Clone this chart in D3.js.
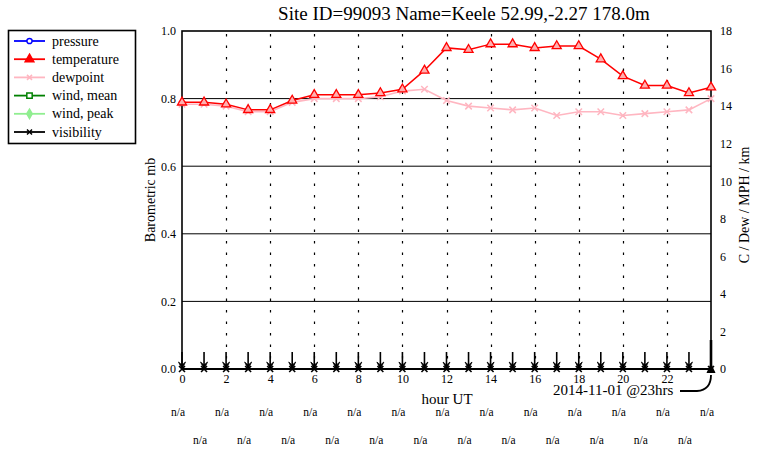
<!DOCTYPE html>
<html><head><meta charset="utf-8">
<script src="https://cdn.jsdelivr.net/npm/d3@7"></script>
<style>body{margin:0;background:#fff}svg{display:block}text{font-family:"Liberation Serif","Times New Roman",serif;fill:#000}</style>
</head><body>
<svg id="c" width="767" height="450"></svg>
<script>
const title = "Site ID=99093 Name=Keele 52.99,-2.27 178.0m";
const hours = [0,1,2,3,4,5,6,7,8,9,10,11,12,13,14,15,16,17,18,19,20,21,22,23,24];
const temperature = [14.2,14.2,14.1,13.8,13.8,14.3,14.6,14.6,14.6,14.7,14.9,15.9,17.1,17.0,17.3,17.3,17.1,17.2,17.2,16.5,15.6,15.1,15.1,14.7,15.0];
const dewpoint = [14.1,14.1,14.0,13.7,13.7,14.2,14.4,14.4,14.4,14.5,14.8,14.9,14.3,14.0,13.9,13.8,13.9,13.5,13.7,13.7,13.5,13.6,13.7,13.8,14.4];
const visibility = [0,0,0,0,0,0,0,0,0,0,0,0,0,0,0,0,0,0,0,0,0,0,0,0,0];
const leftTicks = [0,0.2,0.4,0.6,0.8,1.0];
const rightTicks = [0,2,4,6,8,10,12,14,16,18];
const xTicks = [0,2,4,6,8,10,12,14,16,18,20,22];
const gridHours = [2,4,6,8,10,12,14,16,18,20,22];
const naRow1 = ["n/a","n/a","n/a","n/a","n/a","n/a","n/a","n/a","n/a","n/a","n/a","n/a","n/a"];
const naRow2 = ["n/a","n/a","n/a","n/a","n/a","n/a","n/a","n/a","n/a","n/a","n/a","n/a"];
const legendItems = [
  {name:"pressure", color:"#0000ff", marker:"circle"},
  {name:"temperature", color:"#ff0000", marker:"triangle"},
  {name:"dewpoint", color:"#ffb6c1", marker:"cross"},
  {name:"wind, mean", color:"#008000", marker:"square"},
  {name:"wind, peak", color:"#90ee90", marker:"diamond"},
  {name:"visibility", color:"#000000", marker:"cross"}
];
const stampLabel = "2014-11-01 @23hrs";

const svg = d3.select("#c");
const L=182, R=711, T=31, B=369;
const x = d3.scaleLinear().domain([0,24]).range([L,R]);
const yL = d3.scaleLinear().domain([0,1]).range([B,T]);
const yR = d3.scaleLinear().domain([0,18]).range([B,T]);

// title
svg.append("text").attr("x",464).attr("y",20).attr("text-anchor","middle").style("font-size","19px").text(title);

// grid
svg.append("g").selectAll("line").data(leftTicks.filter(d=>d>0&&d<1)).join("line")
  .attr("x1",L).attr("x2",R).attr("y1",d=>yL(d)).attr("y2",d=>yL(d))
  .attr("stroke","#000").attr("stroke-width",1);
svg.append("g").selectAll("line").data(gridHours).join("line")
  .attr("x1",d=>Math.round(x(d))+0.5).attr("x2",d=>Math.round(x(d))+0.5).attr("y1",T+3).attr("y2",B)
  .attr("stroke","#000").attr("stroke-width",1.2).attr("stroke-dasharray","2.5,9");

// axes (labels only)
const gl = svg.append("g").attr("transform",`translate(${L},0)`)
  .call(d3.axisLeft(yL).tickValues(leftTicks).tickFormat(d3.format(".1f")).tickSize(0).tickPadding(6));
const gr = svg.append("g").attr("transform",`translate(${R},0)`)
  .call(d3.axisRight(yR).tickValues(rightTicks).tickFormat(d3.format("d")).tickSize(0).tickPadding(9));
const gx = svg.append("g").attr("transform",`translate(0,${B})`)
  .call(d3.axisBottom(x).tickValues(xTicks).tickFormat(d3.format("d")).tickSize(0).tickPadding(5));
[gl,gr,gx].forEach(g=>{g.attr("font-family",null);g.select(".domain").remove();g.selectAll("text").style("font-family","'Liberation Serif', serif").style("font-size","12px").attr("fill","#000");});

// frame
svg.append("rect").attr("x",L).attr("y",T).attr("width",R-L).attr("height",B-T)
  .attr("fill","none").attr("stroke","#000").attr("stroke-width",1.6);

// axis titles
svg.append("text").attr("transform",`translate(155,200) rotate(-90)`).attr("text-anchor","middle").style("font-size","14px").text("Barometric mb");
svg.append("text").attr("transform",`translate(749,205) rotate(-90)`).attr("text-anchor","middle").style("font-size","14px").text("C / Dew / MPH / km");
svg.append("text").attr("x",447).attr("y",404).attr("text-anchor","middle").style("font-size","15px").text("hour UT");

// marker helpers
function markerPath(type, s){
  if(type==="triangle") return d3.symbol(d3.symbolTriangle, s*s*0.9)();
  if(type==="circle") return d3.symbol(d3.symbolCircle, s*s*0.6)();
  if(type==="square") return d3.symbol(d3.symbolSquare, s*s*0.8)();
  if(type==="diamond") return d3.symbol(d3.symbolDiamond, s*s*0.7)();
  const h=s/2; return `M${-h},${-h}L${h},${h}M${-h},${h}L${h},${-h}`;
}

// dewpoint
const lineD = d3.line().x((d,i)=>x(hours[i])).y(d=>yR(d));
svg.append("path").attr("d",lineD(dewpoint)).attr("fill","none").attr("stroke","#ffb6c1").attr("stroke-width",1.6);
svg.append("g").selectAll("path").data(dewpoint).join("path")
  .attr("transform",(d,i)=>`translate(${x(hours[i])},${yR(d)})`).attr("d",markerPath("cross",6.5))
  .attr("stroke","#ffb6c1").attr("stroke-width",1.5).attr("fill","none");

// temperature
svg.append("path").attr("d",lineD(temperature)).attr("fill","none").attr("stroke","#ff0000").attr("stroke-width",1.5);
svg.append("g").selectAll("path").data(temperature).join("path")
  .attr("transform",(d,i)=>`translate(${x(hours[i])},${yR(d)})`).attr("d",markerPath("triangle",6.3))
  .attr("stroke","#ff0000").attr("stroke-width",1.3).attr("fill","#ffb0b0");

// visibility baseline markers & arrows
svg.append("path").attr("d",lineD(visibility)).attr("fill","none").attr("stroke","#000").attr("stroke-width",2);
const vg = svg.append("g");
hours.forEach((h,i)=>{
  const px = x(h), py = yR(visibility[i]);
  if(i < hours.length-1){
    vg.append("line").attr("x1",px).attr("x2",px).attr("y1",py-17).attr("y2",py).attr("stroke","#000").attr("stroke-width",1.6);
    vg.append("path").attr("d",`M${px-3.5},${py-7}L${px},${py}L${px+3.5},${py-7}L${px},${py-4}Z`).attr("fill","#000").attr("stroke","#000").attr("stroke-width",0.8);
    vg.append("path").attr("transform",`translate(${px},${py})`).attr("d",markerPath("cross",6)).attr("stroke","#000").attr("stroke-width",1.6);
  } else {
    vg.append("line").attr("x1",px).attr("x2",px).attr("y1",py-29).attr("y2",py).attr("stroke","#000").attr("stroke-width",2.6);
    vg.append("path").attr("d",`M${px-4.5},${py+4}L${px},${py-6}L${px+4.5},${py+4}Z`).attr("fill","#000");
    vg.append("path").attr("transform",`translate(${px},${py})`).attr("d",markerPath("cross",6)).attr("stroke","#000").attr("stroke-width",1.6);
    svg.append("path").attr("d",`M${px-31},${py+22}L${px-14},${py+22}Q${px},${py+21} ${px},${py+6}`).attr("fill","none").attr("stroke","#000").attr("stroke-width",1.8);
  }
});
svg.append("text").attr("x",553).attr("y",395).style("font-size","15px").text(stampLabel);

// n/a rows
svg.append("g").selectAll("text").data(naRow1).join("text")
  .attr("x",(d,i)=>x(i*2)-4).attr("y",416).attr("text-anchor","middle").style("font-size","11.5px").text(d=>d);
svg.append("g").selectAll("text").data(naRow2).join("text")
  .attr("x",(d,i)=>x(i*2+1)-4).attr("y",444).attr("text-anchor","middle").style("font-size","11.5px").text(d=>d);

// legend
const lg = svg.append("g");
lg.append("rect").attr("x",8.5).attr("y",30.5).attr("width",127).attr("height",113).attr("fill","#fff").attr("stroke","#000").attr("stroke-width",1.6);
legendItems.forEach((it,i)=>{
  const yy = 41 + i*18.2;
  lg.append("line").attr("x1",14).attr("x2",45).attr("y1",yy).attr("y2",yy).attr("stroke",it.color).attr("stroke-width",1.8);
  const filled = it.marker==="triangle"||it.marker==="diamond";
  lg.append("path").attr("transform",`translate(29.5,${yy})`).attr("d",markerPath(it.marker, it.marker==="cross"?5:6))
    .attr("stroke",it.color).attr("stroke-width",1.5).attr("fill",filled?it.color:(it.marker==="cross"?"none":"#fff"));
  lg.append("text").attr("x",52).attr("y",yy+4.5).style("font-size","14px").text(it.name);
});
</script>
</body></html>
